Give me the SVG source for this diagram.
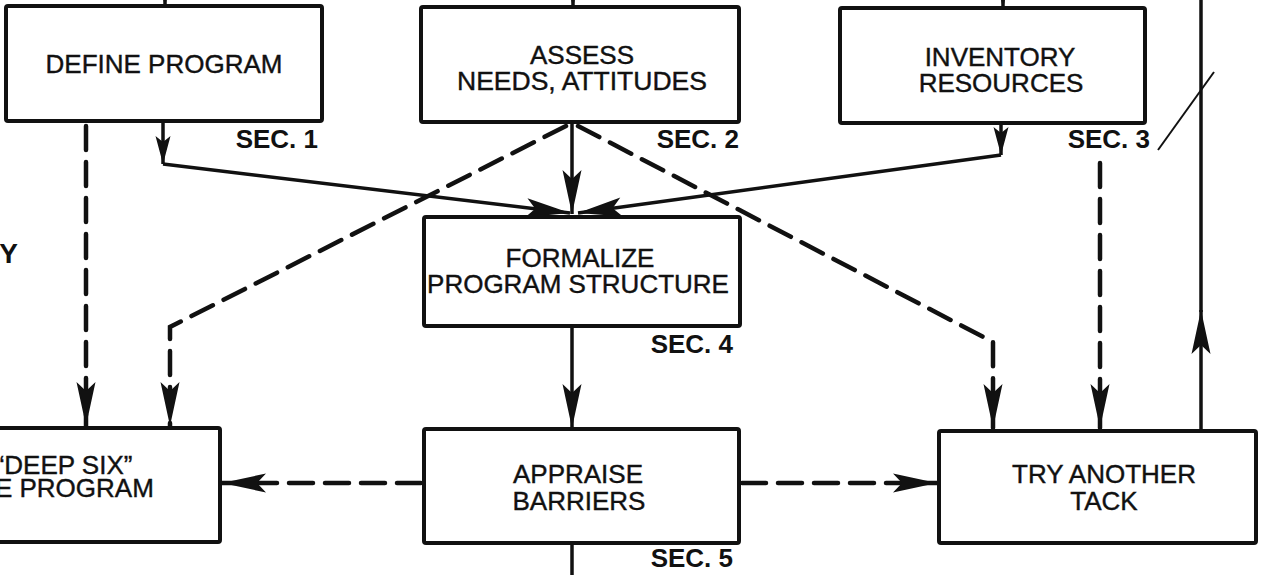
<svg xmlns="http://www.w3.org/2000/svg" width="1264" height="575" viewBox="0 0 1264 575">
  <style>
    .box { fill: #ffffff; stroke: #111111; stroke-width: 4; }
    .label { font-family: "Liberation Sans", Arial, sans-serif; font-size: 26px; fill: #111111; stroke: #111111; stroke-width: 0.4; text-anchor: middle; }
    .sec { font-family: "Liberation Sans", Arial, sans-serif; font-size: 26px; font-weight: bold; fill: #111111; text-anchor: end; }
    .solid { fill: none; stroke: #111111; stroke-width: 3.5; stroke-linejoin: round; }
    .dash { fill: none; stroke: #111111; stroke-width: 4.5; stroke-dasharray: 24 12; stroke-linecap: round; }
  </style>
  <defs>
    <marker id="dart" markerUnits="userSpaceOnUse" orient="auto" viewBox="-46 -11 48 22" refX="0" refY="0" markerWidth="48" markerHeight="22">
      <path d="M0,0 L-44,-9.5 L-35,0 L-44,9.5 Z" fill="#111111" stroke="none"/>
    </marker>
    <marker id="dart-small" markerUnits="userSpaceOnUse" orient="auto" viewBox="-32 -9 34 18" refX="0" refY="0" markerWidth="34" markerHeight="18">
      <path d="M0,0 L-28,-7.5 L-22,0 L-28,7.5 Z" fill="#111111" stroke="none"/>
    </marker>
  </defs>

  <rect width="1264" height="575" fill="#ffffff"/>

  <!-- connectors -->
  <g id="connectors">
    <!-- incoming arrows from above the sheet -->
    <path class="solid" d="M165,-40 V7" marker-end="url(#dart)"/>
    <path class="solid" d="M573,-40 V8" marker-end="url(#dart)"/>
    <path class="solid" d="M1003,-40 V9" marker-end="url(#dart)"/>

    <!-- sec 1 / 2 / 3 feed into sec 4 -->
    <path class="solid" d="M163,122 V164" marker-end="url(#dart-small)"/>
    <path class="solid" d="M163,164 L570,213" marker-end="url(#dart)"/>
    <path class="solid" d="M572,122 V214" marker-end="url(#dart)"/>
    <path class="solid" d="M1001,124 V155" marker-end="url(#dart-small)"/>
    <path class="solid" d="M1001,155 L578,213" marker-end="url(#dart)"/>

    <!-- sec 4 to sec 5, and onward -->
    <path class="solid" d="M572,326 V428" marker-end="url(#dart)"/>
    <path class="solid" d="M572,543 V580"/>

    <!-- return path from TRY ANOTHER TACK -->
    <path class="solid" d="M1201,431 V310" marker-end="url(#dart)"/>
    <path class="solid" d="M1201,312 V-5"/>

    <!-- dashed alternatives -->
    <path class="dash" d="M86,126 V426" marker-end="url(#dart)"/>
    <path class="dash" d="M566,126 L170,327 V426" marker-end="url(#dart)"/>
    <path class="dash" d="M578,126 L993,342 V428" marker-end="url(#dart)"/>
    <path class="dash" d="M1100,163 V428" marker-end="url(#dart)"/>
    <path class="dash" d="M421,483 H222" marker-end="url(#dart)"/>
    <path class="dash" d="M742,483 H937" marker-end="url(#dart)"/>

    <!-- stray pen stroke near sec 3 -->
    <path d="M1158,150 L1214,72" fill="none" stroke="#111111" stroke-width="2"/>
  </g>

  <!-- nodes -->
  <g id="define-program">
    <rect class="box" x="6" y="6" width="316" height="115" rx="2"/>
    <text class="label" x="164" y="73">DEFINE PROGRAM</text>
    <text class="sec" x="318" y="148">SEC. 1</text>
  </g>

  <g id="assess-needs">
    <rect class="box" x="421" y="7" width="318" height="115" rx="2"/>
    <text class="label" x="582" y="64">ASSESS</text>
    <text class="label" x="582" y="90" textLength="250" lengthAdjust="spacingAndGlyphs">NEEDS, ATTITUDES</text>
    <text class="sec" x="739" y="148">SEC. 2</text>
  </g>

  <g id="inventory-resources">
    <rect class="box" x="840" y="8" width="305" height="115" rx="2"/>
    <text class="label" x="1000" y="66">INVENTORY</text>
    <text class="label" x="1001" y="92">RESOURCES</text>
    <text class="sec" x="1150" y="148">SEC. 3</text>
  </g>

  <g id="formalize-structure">
    <rect class="box" x="424" y="217" width="316" height="109" rx="2"/>
    <text class="label" x="580" y="267">FORMALIZE</text>
    <text class="label" x="578" y="293">PROGRAM STRUCTURE</text>
    <text class="sec" x="733" y="353">SEC. 4</text>
  </g>

  <g id="appraise-barriers">
    <rect class="box" x="424" y="429" width="315" height="114" rx="2"/>
    <text class="label" x="578" y="483">APPRAISE</text>
    <text class="label" x="579" y="510">BARRIERS</text>
    <text class="sec" x="733" y="567">SEC. 5</text>
  </g>

  <g id="deep-six">
    <rect class="box" x="-100" y="428" width="320" height="114" rx="2"/>
    <text class="label" x="64" y="474">“DEEP SIX”</text>
    <text class="label" x="57" y="497">THE PROGRAM</text>
  </g>

  <g id="try-another-tack">
    <rect class="box" x="939" y="431" width="317" height="112" rx="2"/>
    <text class="label" x="1104" y="483">TRY ANOTHER</text>
    <text class="label" x="1104" y="510">TACK</text>
  </g>

  <g id="side-heading">
    <text class="sec" x="18" y="263" style="font-size:28px">Y</text>
  </g>
</svg>
